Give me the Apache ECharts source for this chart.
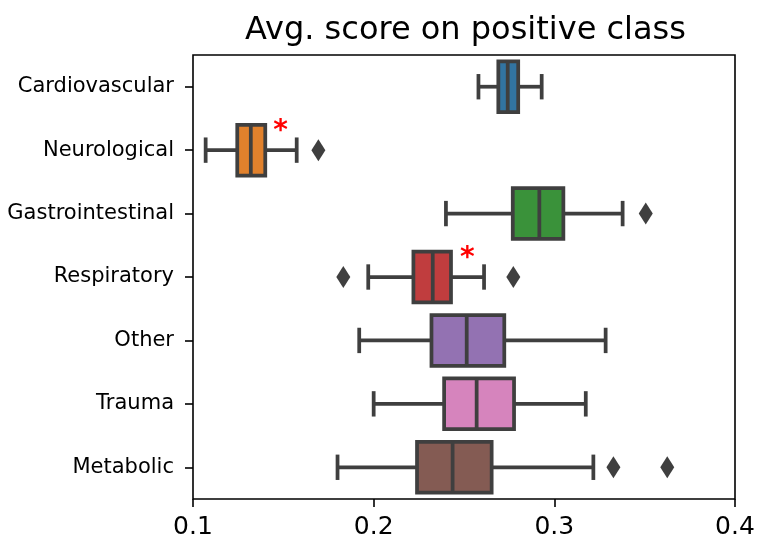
<!DOCTYPE html>
<html lang="en">
<head>
    <meta charset="UTF-8">
    <title>Avg. score on positive class</title>
    <script type="text/javascript" src="https://cdn.jsdelivr.net/npm/echarts@6/dist/echarts.min.js"></script>
</head>
<body style="margin:0">
    <div id="main" style="width: 759px; height:543px;"></div>
    <script type="text/javascript">
        var categories = ['Cardiovascular', 'Neurological', 'Gastrointestinal', 'Respiratory', 'Other', 'Trauma', 'Metabolic'];
        var colors = ['#3274a1', '#e1812c', '#3a923a', '#c03d3e', '#9372b2', '#d684bd', '#845b53'];
        var lowWhisker = [0.258, 0.107, 0.240, 0.197, 0.192, 0.200, 0.180];
        var q1 = [0.269, 0.1245, 0.277, 0.222, 0.232, 0.239, 0.224];
        var median = [0.2742, 0.132, 0.2917, 0.2327, 0.2515, 0.257, 0.2437];
        var q3 = [0.280, 0.140, 0.305, 0.2428, 0.2723, 0.2777, 0.2653];
        var highWhisker = [0.293, 0.1574, 0.3378, 0.2611, 0.3284, 0.3174, 0.3216];
        // [value, category index]
        var outliers = [[0.1694, 1], [0.3506, 2], [0.1832, 3], [0.2773, 3], [0.3327, 6], [0.3625, 6]];
        var stars = [[0.1485, 1], [0.2518, 3]];
        var xTicks = [0.1, 0.2, 0.3, 0.4];

        var chartDom = document.getElementById('main');
        var myChart = echarts.init(chartDom);
        var edge = '#3f3f3f';

        var boxData = categories.map(function (c, i) {
            return [i, lowWhisker[i], q1[i], median[i], q3[i], highWhisker[i]];
        });

        function renderBox(params, api) {
            var idx = api.value(0);
            var band = api.size([0, 1])[1];
            var half = band * 0.4;
            var capHalf = half / 2;
            var lo = api.coord([api.value(1), idx]);
            var a = api.coord([api.value(2), idx]);
            var m = api.coord([api.value(3), idx]);
            var b = api.coord([api.value(4), idx]);
            var hi = api.coord([api.value(5), idx]);
            var y = lo[1];
            var ls = { stroke: edge, lineWidth: 3.75, fill: null };
            return {
                type: 'group',
                children: [
                    { type: 'line', shape: { x1: lo[0], y1: y, x2: a[0], y2: y }, style: ls },
                    { type: 'line', shape: { x1: b[0], y1: y, x2: hi[0], y2: y }, style: ls },
                    { type: 'line', shape: { x1: lo[0], y1: y - capHalf, x2: lo[0], y2: y + capHalf }, style: ls },
                    { type: 'line', shape: { x1: hi[0], y1: y - capHalf, x2: hi[0], y2: y + capHalf }, style: ls },
                    { type: 'rect', shape: { x: a[0], y: y - half, width: b[0] - a[0], height: half * 2 },
                      style: { fill: colors[idx], stroke: edge, lineWidth: 3.75 } },
                    { type: 'line', shape: { x1: m[0], y1: y - half, x2: m[0], y2: y + half }, style: ls }
                ]
            };
        }

        function renderStar(params, api) {
            var p = api.coord([api.value(0), api.value(1)]);
            return {
                type: 'text',
                x: p[0],
                y: p[1] - 18,
                style: {
                    text: '*',
                    fill: '#ff0000',
                    font: 'bold 28px "DejaVu Sans"',
                    align: 'center',
                    verticalAlign: 'middle'
                }
            };
        }

        var option = {
            animation: false,
            title: {
                text: 'Avg. score on positive class',
                left: 240,
                top: 10,
                textStyle: { fontFamily: 'DejaVu Sans', fontSize: 32, fontWeight: 'normal', color: '#000' }
            },
            grid: {
                left: 193, right: 24, top: 55, bottom: 44,
                show: true, borderColor: '#000', borderWidth: 1.6, backgroundColor: '#fff'
            },
            xAxis: {
                type: 'value',
                min: xTicks[0],
                max: xTicks[xTicks.length - 1],
                interval: 0.1,
                axisLine: { show: false },
                axisTick: { show: true, length: 8, lineStyle: { color: '#000', width: 1.6 } },
                splitLine: { show: false },
                axisLabel: {
                    margin: 16,
                    fontFamily: 'DejaVu Sans', fontSize: 25, color: '#000',
                    formatter: function (v) { return v.toFixed(1); }
                }
            },
            yAxis: {
                type: 'category',
                data: categories,
                inverse: true,
                axisLine: { show: false },
                axisTick: { show: true, alignWithLabel: true, length: 8, lineStyle: { color: '#000', width: 1.6 } },
                axisLabel: { margin: 19, fontFamily: 'DejaVu Sans', fontSize: 21, color: '#000' }
            },
            series: [{
                type: 'custom',
                renderItem: renderBox,
                encode: { x: [1, 2, 3, 4, 5], y: 0 },
                data: boxData
            }, {
                type: 'scatter',
                symbol: 'diamond',
                symbolSize: [14, 22],
                itemStyle: { color: edge, opacity: 1 },
                data: outliers
            }, {
                type: 'custom',
                renderItem: renderStar,
                encode: { x: 0, y: 1 },
                data: stars
            }]
        };

        option && myChart.setOption(option);
    </script>
</body>
</html>
